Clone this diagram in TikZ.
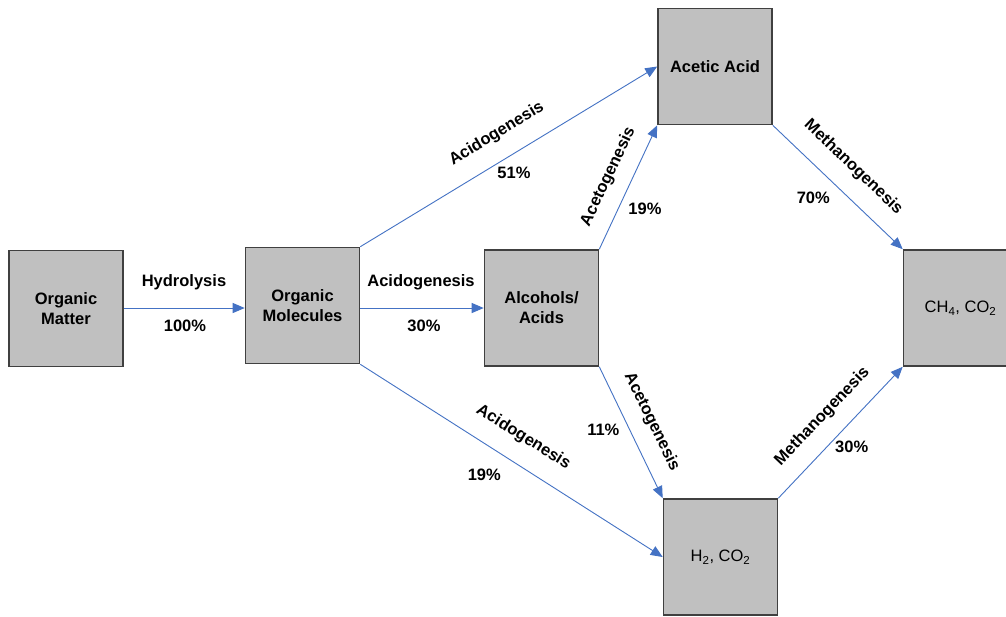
\documentclass[tikz,border=0pt]{standalone}
\usepackage{fontspec}
\setmainfont{Liberation Sans}
\usetikzlibrary{arrows.meta}
\definecolor{boxfill}{RGB}{192,192,192}
\definecolor{boxline}{RGB}{64,64,64}
\definecolor{flow}{RGB}{68,114,196}
\tikzset{
  stagebox/.style={draw=boxline, line width=1.6pt, fill=boxfill, minimum width=114pt, minimum height=116pt, inner sep=0pt, align=center, font=\fontsize{16.5}{20}\selectfont\bfseries},
  plainbox/.style={stagebox, font=\fontsize{16.5}{20}\selectfont},
  flowarrow/.style={draw=flow, line width=0.9pt, -{Triangle[length=12pt,width=10pt]}},
  lbl/.style={font=\fontsize{16.5}{20}\selectfont\bfseries, inner sep=0pt}
}
\begin{document}
\begin{tikzpicture}[x=1pt,y=-1pt]
\useasboundingbox (0,0) rectangle (1006,616);
\clip (0,0) rectangle (1006,616);
\fill[white] (0,0) rectangle (1006,616);
% boxes
\node[stagebox] (om)   at (66,308.5)  {Organic\\Matter};
\node[stagebox] (mol)  at (302.5,305.5) {Organic\\Molecules};
\node[stagebox] (alc)  at (541.5,308) {Alcohols/\\Acids};
\node[stagebox] (acet) at (715,66.5)  {Acetic Acid};
\node[plainbox] (h2)   at (720.5,557) {H\textsubscript{2}, CO\textsubscript{2}};
\node[plainbox] (ch4)  at (960.5,308) {CH\textsubscript{4}, CO\textsubscript{2}};
% connectors
\draw[flowarrow] (om.east |- 0,308) -- (mol.west |- 0,308);
\draw[flowarrow] (mol.east |- 0,308) -- (alc.west |- 0,308);
\draw[flowarrow] (mol.north east) -- (acet.west);
\draw[flowarrow] (mol.south east) -- (h2.west);
\draw[flowarrow] (alc.north east) -- (acet.south west);
\draw[flowarrow] (alc.south east) -- (h2.north west);
\draw[flowarrow] (acet.south east) -- (ch4.north west);
\draw[flowarrow] (h2.north east) -- (ch4.south west);
% labels
\node[lbl] (l1a) at (184,282.7) {Hydrolysis};
\node[lbl] (l1b) at (185,326) {100\%};
\node[lbl] (l2a) at (421,282.7) {Acidogenesis};
\node[lbl] (l2b) at (424,326) {30\%};
\node[lbl, rotate=31.2] (l3a) at (496.7,134) {Acidogenesis};
\node[lbl] (l3b) at (514,172.7) {51\%};
\node[lbl, rotate=-31.8] (l4a) at (523.3,437.3) {Acidogenesis};
\node[lbl] (l4b) at (484.3,475) {19\%};
\node[lbl, rotate=64.7] (l5a) at (608.3,176.7) {Acetogenesis};
\node[lbl] (l5b) at (645,209.3) {19\%};
\node[lbl, rotate=-63.9] (l6a) at (651.7,421.7) {Acetogenesis};
\node[lbl] (l6b) at (603.3,430) {11\%};
\node[lbl, rotate=-43.7] (l7a) at (853.3,167.3) {Methanogenesis};
\node[lbl] (l7b) at (813.3,197.7) {70\%};
\node[lbl, rotate=46.5] (l8a) at (822.3,416.7) {Methanogenesis};
\node[lbl] (l8b) at (851.7,447.3) {30\%};
\end{tikzpicture}
\end{document}
